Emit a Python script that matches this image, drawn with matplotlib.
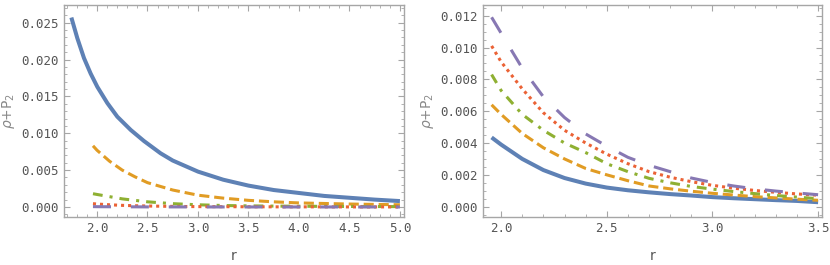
import numpy as np
import matplotlib
matplotlib.use('Agg')
import matplotlib.pyplot as plt
from matplotlib.ticker import MultipleLocator, FormatStrFormatter

# left panel data
r_left_blue = [1.746, 1.805, 1.871, 1.937, 2.003, 2.102, 2.201, 2.334, 2.465, 2.63, 2.75, 3.0, 3.25, 3.5, 3.75, 4.0, 4.25, 4.5, 4.75, 5.0]
blue_left = [0.0257, 0.0229, 0.0202, 0.0181, 0.0163, 0.0141, 0.01225, 0.01045, 0.00895, 0.00728, 0.0063, 0.0048, 0.0037, 0.0029, 0.0023, 0.0019, 0.0015, 0.00125, 0.001, 0.0008]
r_left = [1.96, 2.0, 2.125, 2.25, 2.375, 2.5, 2.75, 3.0, 3.25, 3.5, 3.75, 4.0, 4.5, 5.0]
orange_left = [0.0083, 0.0077, 0.0062, 0.0050, 0.0041, 0.0033, 0.0023, 0.0016, 0.0012, 0.0009, 0.0007, 0.00055, 0.0004, 0.0003]
green_left = [0.0018, 0.0017, 0.0014, 0.0011, 0.0009, 0.0007, 0.00045, 0.0003, 0.0002, 0.00015, 0.00012, 0.0001, 0.00007, 0.00005]
red_left = [0.00045, 0.0004, 0.0003, 0.00022, 0.00017, 0.00013, 0.00008, 0.00005, 0.00004, 0.00003, 0.00002, 0.00002, 0.00001, 0.00001]
purple_left = [0.00005, 0.00004, 0.00003, 0.00002, 0.00002, 0.00001, 0.00001, 0.000005, 0.000004, 0.000003, 0.000003, 0.000002, 0.000002, 0.000001]

# right panel data
r_right = [1.955, 2.0, 2.1, 2.2, 2.3, 2.4, 2.5, 2.6, 2.7, 2.8, 2.9, 3.0, 3.1, 3.2, 3.3, 3.4, 3.5]
blue_right = [0.00435, 0.0039, 0.0030, 0.0023, 0.0018, 0.00145, 0.0012, 0.00103, 0.0009, 0.00079, 0.0007, 0.0006, 0.00053, 0.00047, 0.00041, 0.00036, 0.00028]
orange_right = [0.0064, 0.0058, 0.0046, 0.0037, 0.0030, 0.0024, 0.0020, 0.00163, 0.0013, 0.00112, 0.00097, 0.00084, 0.00073, 0.00063, 0.00055, 0.00047, 0.0004]
green_right = [0.0083, 0.0073, 0.0058, 0.0048, 0.0040, 0.0034, 0.0027, 0.0022, 0.00178, 0.0015, 0.00127, 0.0011, 0.00095, 0.00082, 0.0007, 0.0006, 0.0005]
red_right = [0.0101, 0.0091, 0.0074, 0.0059, 0.0048, 0.0040, 0.0033, 0.0027, 0.0022, 0.00185, 0.00157, 0.00134, 0.00116, 0.00102, 0.0009, 0.0008, 0.00072]
purple_right = [0.0119, 0.0109, 0.0087, 0.0069, 0.0056, 0.00457, 0.0038, 0.0031, 0.0026, 0.0022, 0.0018, 0.00152, 0.0013, 0.00112, 0.00098, 0.00086, 0.00075]

c_blue = '#5E81B5'
c_orange = '#E19C24'
c_green = '#8FB032'
c_red = '#EB6235'
c_purple = '#8778B3'
frame_c = '#A6A6A6'
text_c = '#555555'

fig = plt.figure(figsize=(8.3, 2.65), dpi=100)
ax1 = fig.add_axes([0.0771, 0.1811, 0.4096, 0.8])
ax2 = fig.add_axes([0.5816, 0.1811, 0.4084, 0.8])


def draw(ax, rb, b, r, o, g, rd, p):
    ax.plot(rb, b, color=c_blue, lw=2.9, solid_capstyle='butt', solid_joinstyle='round')
    ax.plot(r, o, color=c_orange, lw=2.2, dashes=(3.3, 1.6), dash_capstyle='butt')
    ax.plot(r, g, color=c_green, lw=2.2, dashes=(3.2, 2.3, 1.0, 2.3), dash_capstyle='butt')
    ax.plot(r, rd, color=c_red, lw=2.2, dashes=(1.0, 1.3), dash_capstyle='butt')
    ax.plot(r, p, color=c_purple, lw=2.2, dashes=(5.9, 6.5), dash_capstyle='butt')


def style(ax):
    for s in ax.spines.values():
        s.set_color(frame_c)
        s.set_linewidth(1.0)
    ax.tick_params(which='both', direction='in', top=True, right=True,
                   color=frame_c, labelcolor=text_c, labelsize=9)
    ax.tick_params(which='major', length=4, width=0.8)
    ax.tick_params(which='minor', length=2, width=0.6)
    for lab in ax.get_xticklabels() + ax.get_yticklabels():
        lab.set_family('DejaVu Sans Mono')
    ax.set_xlabel('r', color=text_c, fontsize=10, labelpad=10)
    ax.set_ylabel(r'$\rho$+P$_2$', color='#888888', fontsize=10, labelpad=3)


draw(ax1, r_left_blue, blue_left, r_left, orange_left, green_left, red_left, purple_left)
ax1.set_xlim(1.673, 5.04)
ax1.set_ylim(-0.00136, 0.0274)
ax1.xaxis.set_major_locator(MultipleLocator(0.5))
ax1.xaxis.set_minor_locator(MultipleLocator(0.1))
ax1.yaxis.set_major_locator(MultipleLocator(0.005))
ax1.yaxis.set_minor_locator(MultipleLocator(0.001))
ax1.xaxis.set_major_formatter(FormatStrFormatter('%.1f'))
ax1.yaxis.set_major_formatter(FormatStrFormatter('%.3f'))
style(ax1)

draw(ax2, r_right, blue_right, r_right, orange_right, green_right, red_right, purple_right)
ax2.set_xlim(1.913, 3.517)
ax2.set_ylim(-0.00065, 0.01267)
ax2.xaxis.set_major_locator(MultipleLocator(0.5))
ax2.xaxis.set_minor_locator(MultipleLocator(0.1))
ax2.yaxis.set_major_locator(MultipleLocator(0.002))
ax2.yaxis.set_minor_locator(MultipleLocator(0.0005))
ax2.xaxis.set_major_formatter(FormatStrFormatter('%.1f'))
ax2.yaxis.set_major_formatter(FormatStrFormatter('%.3f'))
style(ax2)

fig.savefig('out.png', dpi=100)
